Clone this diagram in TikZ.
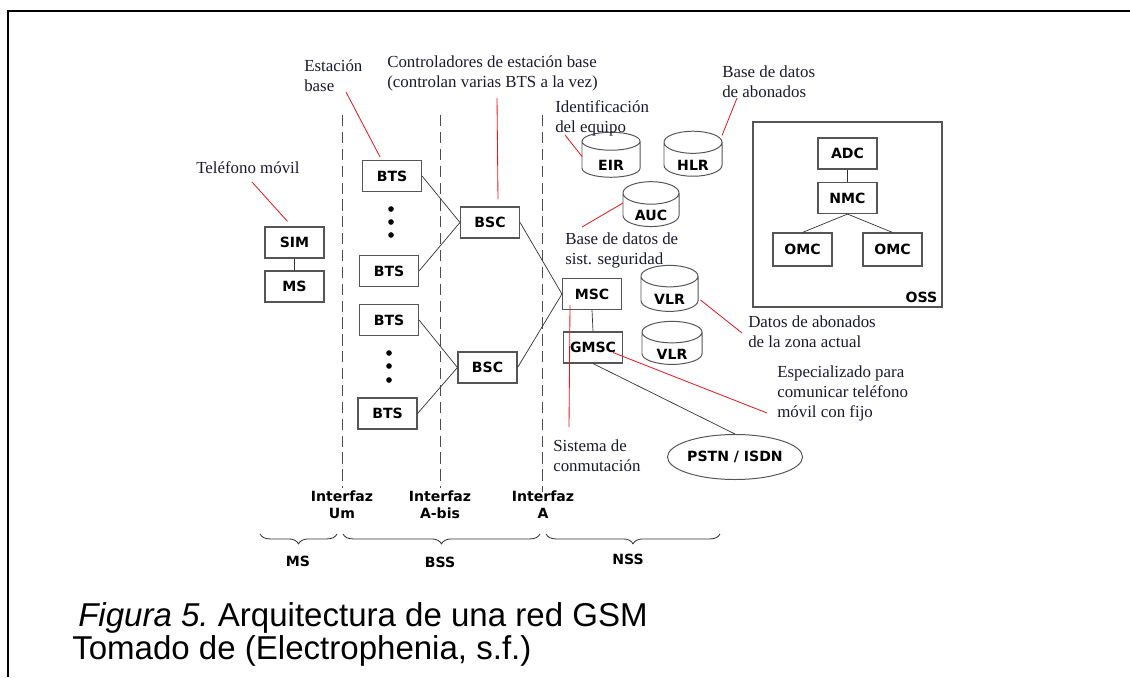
\documentclass[tikz,border=0pt]{standalone}
\usepackage{fontspec}
\setmainfont{Liberation Serif}
\setsansfont{Liberation Sans}
\newfontfamily\comicfont{DejaVu Sans}
\usepackage{tikz}
\usetikzlibrary{shapes.geometric, decorations.pathreplacing, calc}
\definecolor{boxgray}{HTML}{555555}
\definecolor{wiregray}{HTML}{333333}
\definecolor{noteink}{HTML}{1A1A2E}
\definecolor{calloutred}{HTML}{E51C23}

\begin{document}
\begin{tikzpicture}[
    x=0.025cm, y=-0.025cm,
    unit/.style={rectangle, draw=boxgray, line width=0.8pt, fill=white,
        minimum width=1.475cm, minimum height=0.775cm, inner sep=0pt,
        font=\comicfont\bfseries\fontsize{10}{12}\selectfont},
    db/.style={cylinder, shape border rotate=90, aspect=0.7, draw=boxgray,
        line width=0.7pt, fill=white, minimum width=1.45cm, minimum height=1.125cm,
        inner sep=0pt, font=\comicfont\bfseries\fontsize{10}{12}\selectfont,
        label={[dbtext]center:#1}},
    dbtext/.style={inner sep=0pt, yshift=-4pt,
        font=\comicfont\bfseries\fontsize{10}{12}\selectfont},
    tag/.style={align=center, inner sep=0pt,
        font=\comicfont\bfseries\fontsize{10}{12}\selectfont},
    note/.style={anchor=west, align=left, inner sep=0pt, text=noteink,
        font=\rmfamily\fontsize{12}{14.2}\selectfont},
    dot/.style={circle, fill=black, inner sep=0pt, minimum size=4pt},
    wire/.style={draw=wiregray, line width=0.5pt},
    callout/.style={draw=calloutred, line width=0.6pt},
    ifline/.style={draw=black!70, line width=0.7pt, dash pattern=on 8pt off 4pt},
    grp/.style={decorate, decoration={brace, mirror, amplitude=7pt},
        draw=black!80, line width=0.6pt}
]
    \useasboundingbox (0,0) rectangle (1130,677);
    % frame
    \draw[line width=1.6pt] (1130,11) -- (8,11) -- (8,677);

    % interfaces
    \draw[ifline] (342,115) -- (342,488);
    \draw[ifline] (440,115) -- (440,488);
    \draw[ifline] (542,115) -- (542,492);
    \node[tag] (um) at (342,505) {Interfaz\\Um};
    \node[tag] (abis) at (440,505) {Interfaz\\A-bis};
    \node[tag] (ai) at (543,505) {Interfaz\\A};

    % mobile station
    \node[unit] (sim) at (294.5,242.5) {SIM};
    \node[unit] (ms) at (294.5,286.5) {MS};

    % base station subsystem
    \node[unit] (bts1) at (392,176) {BTS};
    \node[unit] (bts2) at (389,271) {BTS};
    \node[unit] (bts3) at (389,320) {BTS};
    \node[unit] (bts4) at (387.5,413.5) {BTS};
    \foreach \n/\px/\py in {a/391/209, b/391/222, c/391/235, d/389/353, e/389/366, f/389/380}
        \node[dot] (dot\n) at (\px,\py) {};
    \node[unit] (bsc1) at (490,222.5) {BSC};
    \node[unit] (bsc2) at (487.5,367.5) {BSC};

    % network subsystem
    \node[unit] (msc) at (592,294) {MSC};
    \node[unit] (gmsc) at (593,347.5) {GMSC};
    \node[db=EIR] (eir) at (611,159.5) {\phantom{EIR}};
    \node[db=HLR] (hlr) at (693,159.5) {\phantom{HLR}};
    \node[db=AUC, minimum width=1.4cm, minimum height=1.1cm] (auc) at (651,210) {\phantom{AUC}};
    \node[db=VLR, minimum width=1.425cm, minimum height=1.15cm] (vlr1) at (669.5,294) {\phantom{VLR}};
    \node[db=VLR, minimum width=1.5cm, minimum height=1.075cm] (vlr2) at (672,348.5) {\phantom{VLR}};
    \node[ellipse, draw=boxgray, line width=0.7pt, minimum width=3.325cm,
        minimum height=1.125cm, inner sep=0pt,
        font=\comicfont\bfseries\fontsize{10}{12}\selectfont] (pstn) at (735,457) {PSTN / ISDN};

    % operation subsystem
    \node[rectangle, draw=boxgray, line width=0.8pt, minimum width=4.725cm,
        minimum height=4.625cm] (oss) at (847.5,214.5) {};
    \node[tag, anchor=south east] (osslbl) at ([shift={(-5,-5)}]oss.south east) {OSS};
    \node[unit] (adc) at (847.5,153.5) {ADC};
    \node[unit] (nmc) at (847.5,198) {NMC};
    \node[unit, minimum height=0.825cm] (omc1) at (802.5,249.5) {OMC};
    \node[unit, minimum height=0.825cm] (omc2) at (892.5,249.5) {OMC};

    % links
    \foreach \a/\b in {bts1/bsc1, bts2/bsc1, bts3/bsc2, bts4/bsc2, bsc1/msc, bsc2/msc}
        \draw[wire] (\a.east) -- (\b.west);
    \foreach \a/\b in {sim/ms, msc/gmsc, adc/nmc, gmsc/pstn}
        \draw[wire] (\a.south) -- (\b.north);
    \draw[wire] (nmc.south) -- (omc1.north);
    \draw[wire] (nmc.south) -- (omc2.north);

    % notes
    \node[note] (tel) at (196,168) {Teléfono móvil};
    \node[note] (est) at (304,76) {Estación\\base};
    \node[note] (ctrl) at (387,73) {Controladores de estación base\\(controlan varias BTS a la vez)};
    \node[note] (ident) at (555,118) {Identificación\\del equipo};
    \node[note] (hlrnote) at (722,82) {Base de datos\\de abonados};
    \node[note] (aucnote) at (565,250) {Base de datos de\\sist. seguridad};
    \node[note] (vlrnote) at (748,332) {Datos de abonados\\de la zona actual};
    \node[note] (gmscnote) at (777,393) {Especializado para\\comunicar teléfono\\móvil con fijo};
    \node[note] (sisnote) at (553,456) {Sistema de\\conmutación};

    % callouts
    \draw[callout] ([shift={(56,14)}]tel.west) -- ([shift={(-7,-5)}]sim.north);
    \draw[callout] ([shift={(42,16)}]est.west) -- ([shift={(-12,-3)}]bts1.north);
    \draw[callout] ([shift={(110,25)}]ctrl.west) -- ([shift={(8,-7)}]bsc1.north);
    \draw[callout] ([shift={(10,17)}]ident.west) -- ([shift={(-29,-3)}]eir.center);
    \draw[callout] ([shift={(15,16)}]hlrnote.west) -- ([shift={(29,-24)}]hlr.center);
    \draw[callout] ([shift={(-28,-7)}]auc.center) -- ([shift={(17,-23)}]aucnote.west);
    \draw[callout] ([shift={(31,6)}]vlr1.center) -- ([shift={(-6,1)}]vlrnote.west);
    \draw[callout] ([shift={(20,5)}]gmsc.center) -- ([shift={(-10,20)}]gmscnote.west);
    \draw[callout] ([shift={(-22,11)}]msc.center) -- ([shift={(16,-29)}]sisnote.west);

    % groups
    \draw[grp] (260,534) -- (337,534);
    \draw[grp] (343,534) -- (540,534);
    \draw[grp] (546,534) -- (720,534);
    \node[tag] (mslbl) at (298,561) {MS};
    \node[tag] (bsslbl) at (440,562) {BSS};
    \node[tag] (nsslbl) at (628,559) {NSS};

    % caption
    \node[anchor=west, inner sep=0pt, font=\sffamily\fontsize{23.5}{28}\selectfont]
        (cap) at (78,618) {\textit{Figura 5.}~Arquitectura de una red GSM};
    \node[anchor=west, inner sep=0pt, font=\sffamily\fontsize{23.5}{28}\selectfont]
        (src) at (72,651) {Tomado de (Electrophenia, s.f.)};
\end{tikzpicture}
\end{document}
